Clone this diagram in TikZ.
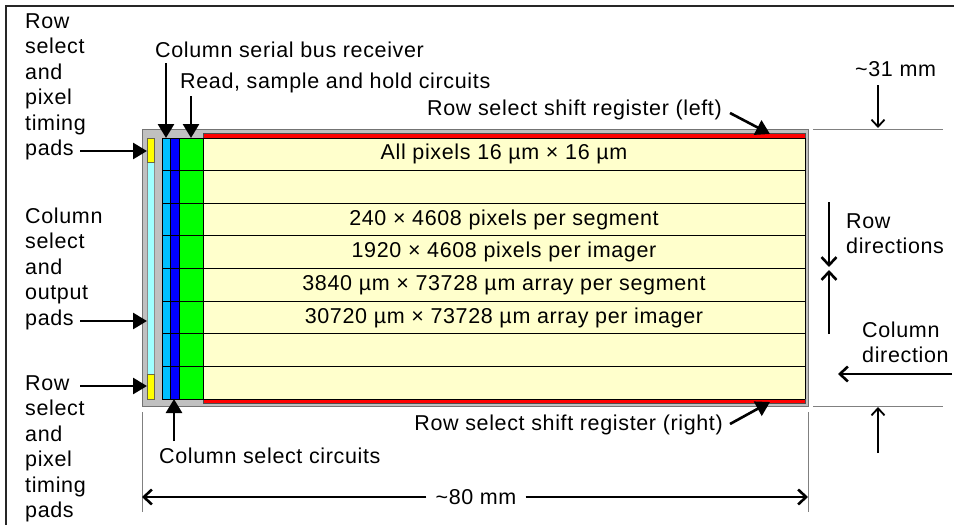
\documentclass[tikz,border=0pt]{standalone}
\usepackage{fontspec}
\setmainfont[LetterSpace=3]{Liberation Sans}
\usetikzlibrary{arrows.meta,positioning}
\definecolor{chipgray}{HTML}{C0C0C0}
\definecolor{padyellow}{HTML}{FFFF00}
\definecolor{padcyan}{HTML}{A0FFFF}
\definecolor{busblue}{HTML}{00C0FF}
\definecolor{selblue}{HTML}{0000FF}
\definecolor{shgreen}{HTML}{00FF00}
\definecolor{pixcream}{HTML}{FFFFCC}
\definecolor{regred}{HTML}{FF0000}
\tikzset{
  lbl/.style={font=\fontsize{21.5}{25.5}\selectfont, inner sep=0pt, align=left, anchor=base west},
  rowtext/.style={font=\fontsize{21.5}{25.5}\selectfont, inner sep=0pt},
  callout/.style={-{Triangle[length=14pt,width=16pt]}, line width=2.6pt},
  dimarrow/.style={-{Straight Barb[length=8pt,width=15pt]}, line width=2.6pt},
  thinarrow/.style={-{Straight Barb[length=7pt,width=13pt]}, line width=1.8pt},
  extline/.style={draw=black!50, line width=0.9pt},
  rowline/.style={draw=black, line width=0.9pt},
}
\begin{document}
\begin{tikzpicture}[x=1pt, y=-1pt]
    \useasboundingbox (0,0) rectangle (954,525);
    % Frame
    \draw[line width=1.6pt, black!85] (6,525) -- (6,6) -- (954,6);

    % Chip body
    \draw[fill=chipgray, draw=black!55, line width=1pt] (142,129) rectangle (808,406);

    % Pad strip
    \draw[fill=padcyan, draw=black!45, line width=0.8pt] (147,162) rectangle (154,374);
    \draw[fill=padyellow, draw=black!45!yellow!60!black, line width=0.8pt] (147,138) rectangle (154,162);
    \draw[fill=padyellow, draw=black!45!yellow!60!black, line width=0.8pt] (147,374) rectangle (154,399);

    % Column circuits and pixel array
    \fill[busblue] (162,138) rectangle (170,399);
    \fill[selblue] (170,138) rectangle (179,399);
    \fill[shgreen] (179,138) rectangle (203,399);
    \fill[pixcream] (203,138) rectangle (805,399);

    % Row select shift registers
    \draw[fill=regred, draw=black!70, line width=0.7pt] (203,133) rectangle (805,138);
    \draw[fill=regred, draw=black!70, line width=0.7pt] (203,399) rectangle (805,403);

    % Rows and strip edges
    \foreach \i in {0,...,8}
        \draw[rowline] (162,{138+\i*32.625}) -- (805,{138+\i*32.625});
    \foreach \x in {162,170,179,203,805}
        \draw[rowline] (\x,138) -- (\x,399);

    % Row texts
    \foreach \r/\t in {1/All pixels 16 µm × 16 µm,
                       3/240 × 4608 pixels per segment,
                       4/1920 × 4608 pixels per imager,
                       5/3840 µm × 73728 µm array per segment,
                       6/30720 µm × 73728 µm array per imager}
        \node[rowtext] (row\r) at (504,{138+(\r-0.5)*32.625}) {\t};

    % Left labels (base = last line)
    \node[lbl] (padslblA) at (25,155.5) {Row\\select\\and\\pixel\\timing\\pads};
    \node[lbl] (outpadslbl) at (25,325) {Column\\select\\and\\output\\pads};
    \node[lbl] (padslblB) at (25,517.5) {Row\\select\\and\\pixel\\timing\\pads};
    \coordinate (padA) at (147,151);
    \coordinate (padAtail) at (80,151);
    \coordinate (outpad) at (147,321);
    \coordinate (outpadtail) at (80,321);
    \coordinate (padB) at (147,386);
    \coordinate (padBtail) at (80,386);
    \draw[callout] (padAtail) -- (padA);
    \draw[callout] (outpadtail) -- (outpad);
    \draw[callout] (padBtail) -- (padB);

    % Top labels
    \node[lbl] (buslbl) at (155,57) {Column serial bus receiver};
    \node[lbl] (shlbl) at (180,88) {Read, sample and hold circuits};
    \coordinate (bus) at (166,138);
    \coordinate (bustail) at (166,63);
    \coordinate (sh) at (191,138);
    \coordinate (shtail) at (191,96);
    \draw[callout] (bustail) -- (bus);
    \draw[callout] (shtail) -- (sh);

    % Shift register labels
    \node[lbl, anchor=base east] (regleftlbl) at (722,115) {Row select shift register (left)};
    \node[lbl, anchor=base east] (regrightlbl) at (723,430) {Row select shift register (right)};
    \coordinate (regleft) at (770,134);
    \coordinate (reglefttail) at (730,113);
    \coordinate (regright) at (770,402);
    \coordinate (regrighttail) at (730,424);
    \draw[callout] (reglefttail) -- (regleft);
    \draw[callout] (regrighttail) -- (regright);

    % Column select label
    \node[lbl] (sellbl) at (159,463) {Column select circuits};
    \coordinate (sel) at (174,399);
    \coordinate (seltail) at (174,441);
    \draw[callout] (seltail) -- (sel);

    % Width dimension
    \draw[extline] (142,412) -- (142,512);
    \draw[extline] (808,412) -- (808,512);
    \coordinate (wleft) at (142,497);
    \coordinate (wright) at (808,497);
    \node[rowtext, inner xsep=9pt] (widthlbl) at (476,497) {\textasciitilde80 mm};
    \draw[dimarrow] (widthlbl) -- (wleft);
    \draw[dimarrow] (widthlbl) -- (wright);

    % Height dimension
    \draw[extline] (813,129) -- (943,129);
    \draw[extline] (813,406) -- (943,406);
    \node[lbl] (heightlbl) at (855,76) {\textasciitilde31 mm};
    \coordinate (htop) at (878,128);
    \coordinate (htoptail) at (878,85);
    \coordinate (hbot) at (878,407);
    \coordinate (hbottail) at (878,453);
    \draw[thinarrow] (htoptail) -- (htop);
    \draw[thinarrow] (hbottail) -- (hbot);

    % Row directions
    \node[lbl] (rowdirlbl) at (846,253.5) {Row\\directions};
    \coordinate (rowdown) at (829,267);
    \coordinate (rowdowntail) at (829,202);
    \coordinate (rowup) at (829,270);
    \coordinate (rowuptail) at (829,334);
    \draw[dimarrow] (rowdowntail) -- (rowdown);
    \draw[dimarrow] (rowuptail) -- (rowup);

    % Column direction
    \node[lbl] (coldirlbl) at (862,362.5) {Column\\direction};
    \coordinate (coldir) at (838,374);
    \coordinate (coldirtail) at (952,374);
    \draw[dimarrow] (coldirtail) -- (coldir);
\end{tikzpicture}
\end{document}
